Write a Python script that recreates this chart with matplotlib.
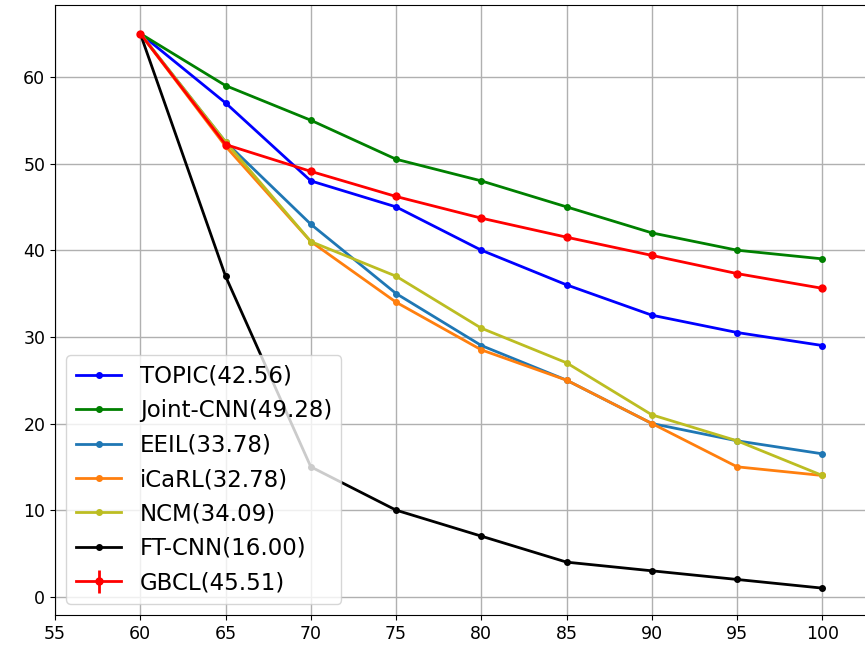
import matplotlib
matplotlib.use("Agg")
import matplotlib.pyplot as plt

x = [60, 65, 70, 75, 80, 85, 90, 95, 100]
topic = [65, 57, 48, 45, 40, 36, 32.5, 30.5, 29]
joint = [65, 59, 55, 50.5, 48, 45, 42, 40, 39]
eeil = [65, 52.5, 43, 35, 29, 25, 20, 18, 16.5]
icarl = [65, 52, 41, 34, 28.5, 25, 20, 15, 14]
ncm = [65, 52.5, 41, 37, 31, 27, 21, 18, 14]
ftcnn = [65, 37, 15, 10, 7, 4, 3, 2, 1]
gbcl = [65, 52.2, 49.1, 46.2, 43.7, 41.5, 39.4, 37.3, 35.6]
gbcl_err = [0.2] * 9

fig = plt.figure(figsize=(8.65, 6.54), dpi=100)
# axes extends slightly past the right edge of the figure (right spine cropped)
ax = fig.add_axes([55/865, 39/654, 822/865, 610/654])

lw = 2
ax.plot(x, topic, '.-', color='blue', lw=lw, ms=8, label='TOPIC(42.56)')
ax.plot(x, joint, '.-', color='green', lw=lw, ms=8, label='Joint-CNN(49.28)')
ax.plot(x, eeil, '.-', color='#1f77b4', lw=lw, ms=8, label='EEIL(33.78)')
ax.plot(x, icarl, '.-', color='#ff7f0e', lw=lw, ms=8, label='iCaRL(32.78)')
ax.plot(x, ncm, '.-', color='#bcbd22', lw=lw, ms=8, label='NCM(34.09)')
ax.plot(x, ftcnn, '.-', color='black', lw=lw, ms=8, label='FT-CNN(16.00)')
ax.errorbar(x, gbcl, yerr=gbcl_err, fmt='.-', color='red', lw=lw, ms=10, label='GBCL(45.51)')

ax.set_xlim(55, 103.2)
ax.set_ylim(-2.1, 68.3)
ax.set_xticks([55, 60, 65, 70, 75, 80, 85, 90, 95, 100])
ax.set_yticks([0, 10, 20, 30, 40, 50, 60])
ax.grid(True, color='#b0b0b0', lw=1)
ax.tick_params(labelsize=12.5)
ax.legend(loc='lower left', fontsize=16.5, labelspacing=0.5, handlelength=2.0)

fig.savefig('out.png', dpi=100)
